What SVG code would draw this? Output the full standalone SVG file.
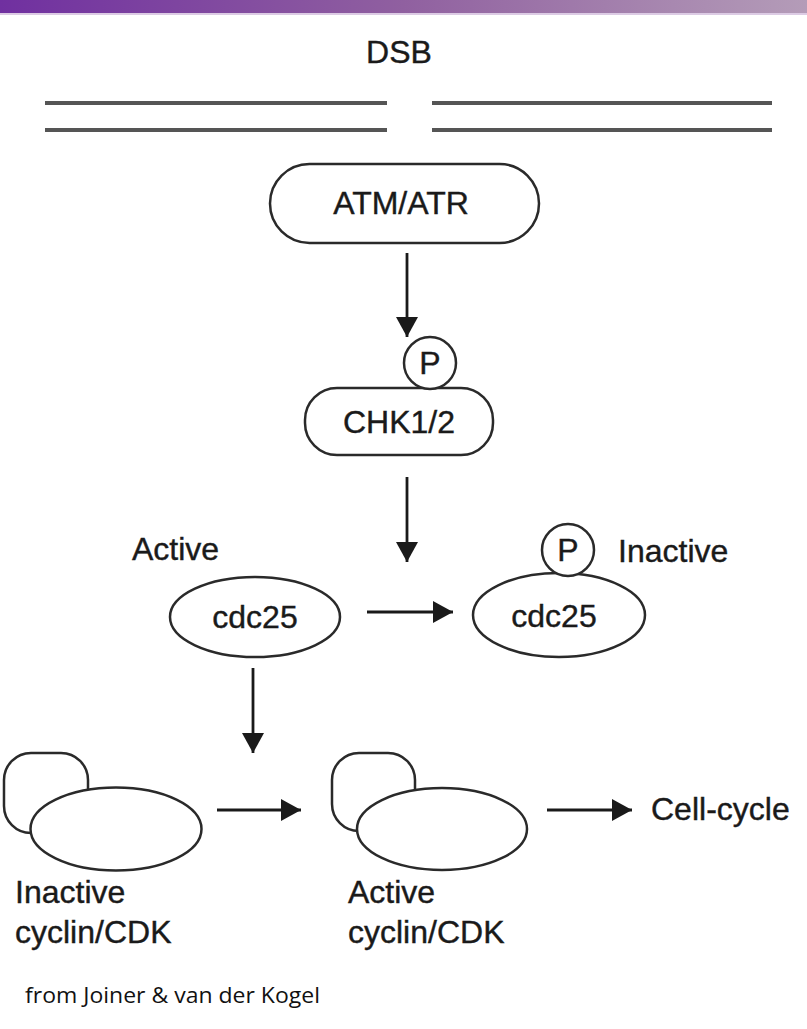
<svg xmlns="http://www.w3.org/2000/svg" width="807" height="1029" viewBox="0 0 807 1029">
<defs>
<linearGradient id="bar" x1="0" y1="0" x2="1" y2="0">
<stop offset="0" stop-color="#7030a0"/>
<stop offset="0.5" stop-color="#9060a0"/>
<stop offset="1" stop-color="#b49cb8"/>
</linearGradient>
<marker id="ah" viewBox="0 0 20 22" refX="20" refY="11" markerWidth="20" markerHeight="22" markerUnits="userSpaceOnUse" orient="auto">
<path d="M0,0 L20,11 L0,22 Z" fill="#1a1a1a"/>
</marker>
</defs>
<style>
.lbl{font-family:"Liberation Sans",Arial,sans-serif;font-size:32px;fill:#1a1a1a;stroke:#1a1a1a;stroke-width:0.4}
.shape{fill:#fff;stroke:#2a2a2a;stroke-width:2.5}
.conn{stroke:#1a1a1a;stroke-width:2.8;fill:none;marker-end:url(#ah)}
.dna{stroke:#555;stroke-width:4}
</style>
<rect width="807" height="1029" fill="#fff"/>
<rect x="0" y="0" width="807" height="13" fill="url(#bar)"/>
<rect x="0" y="13" width="807" height="2" fill="#dccbe4"/>

<g id="dsb">
<text class="lbl" x="399" y="63" text-anchor="middle">DSB</text>
<line class="dna" x1="45" y1="103" x2="387" y2="103"/>
<line class="dna" x1="45" y1="130" x2="387" y2="130"/>
<line class="dna" x1="432" y1="103" x2="772" y2="103"/>
<line class="dna" x1="432" y1="130" x2="772" y2="130"/>
</g>

<g id="atm">
<rect class="shape" x="270" y="164" width="269" height="79" rx="39.5"/>
<text class="lbl" x="401" y="214" text-anchor="middle">ATM/ATR</text>
</g>

<g id="chk">
<rect class="shape" x="305" y="388" width="188" height="67" rx="32"/>
<circle class="shape" cx="430" cy="363" r="26"/>
<text class="lbl" x="430" y="374" text-anchor="middle">P</text>
<text class="lbl" x="399" y="433" text-anchor="middle">CHK1/2</text>
</g>

<g id="cdc25-active">
<text class="lbl" x="132" y="560">Active</text>
<ellipse class="shape" cx="255" cy="617" rx="85" ry="40"/>
<text class="lbl" x="255" y="628" text-anchor="middle">cdc25</text>
</g>

<g id="cdc25-inactive">
<ellipse class="shape" cx="559" cy="615" rx="86" ry="42"/>
<circle class="shape" cx="568" cy="550" r="26"/>
<text class="lbl" x="568" y="561" text-anchor="middle">P</text>
<text class="lbl" x="618" y="562">Inactive</text>
<text class="lbl" x="554" y="627" text-anchor="middle">cdc25</text>
</g>

<g id="cyclin-inactive">
<rect class="shape" x="4" y="753" width="84" height="80" rx="27"/>
<ellipse class="shape" cx="116" cy="829" rx="85.5" ry="41.5"/>
<text class="lbl" x="15" y="903">Inactive</text>
<text class="lbl" x="15" y="943">cyclin/CDK</text>
</g>

<g id="cyclin-active">
<rect class="shape" x="332" y="753" width="83" height="78" rx="27"/>
<ellipse class="shape" cx="442" cy="829" rx="85" ry="41"/>
<text class="lbl" x="348" y="903">Active</text>
<text class="lbl" x="348" y="943">cyclin/CDK</text>
</g>

<g id="cellcycle">
<text class="lbl" x="651" y="820">Cell-cycle</text>
</g>

<g id="connectors">
<line class="conn" x1="407" y1="253" x2="407" y2="337"/>
<line class="conn" x1="407" y1="477" x2="407" y2="562"/>
<line class="conn" x1="367" y1="612" x2="453" y2="612"/>
<line class="conn" x1="253" y1="668" x2="253" y2="753"/>
<line class="conn" x1="217" y1="810" x2="301" y2="810"/>
<line class="conn" x1="547" y1="810" x2="632" y2="810"/>
</g>

<text x="25" y="1003" font-family="'Open Sans','Liberation Sans',sans-serif" font-size="21" fill="#111" textLength="295" lengthAdjust="spacingAndGlyphs">from Joiner &amp; van der Kogel</text>
</svg>
